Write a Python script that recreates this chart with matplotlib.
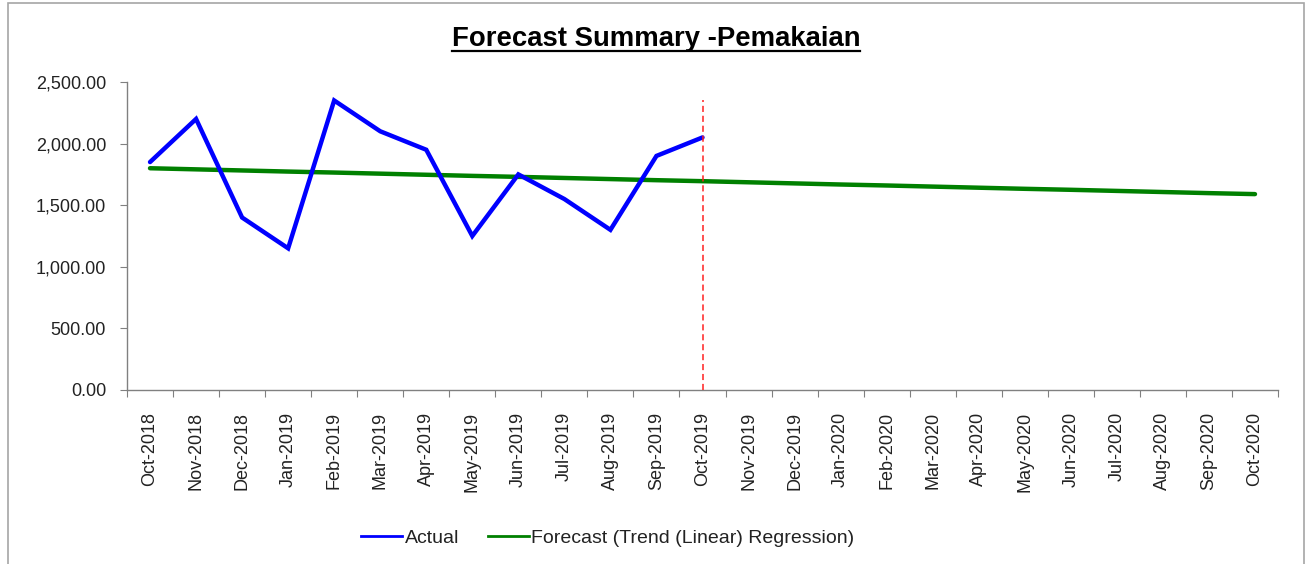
"""
Forecast summary chart: actual usage vs linear trend forecast.
"""

import matplotlib
matplotlib.use("Agg")
import matplotlib.pyplot as plt
from matplotlib.lines import Line2D
from matplotlib.patches import Rectangle
from matplotlib.ticker import FuncFormatter, FixedLocator

plt.rcParams["font.family"] = ["Liberation Sans", "DejaVu Sans"]

MONTHS = [
    "Oct-2018", "Nov-2018", "Dec-2018", "Jan-2019", "Feb-2019", "Mar-2019",
    "Apr-2019", "May-2019", "Jun-2019", "Jul-2019", "Aug-2019", "Sep-2019",
    "Oct-2019", "Nov-2019", "Dec-2019", "Jan-2020", "Feb-2020", "Mar-2020",
    "Apr-2020", "May-2020", "Jun-2020", "Jul-2020", "Aug-2020", "Sep-2020",
    "Oct-2020",
]

ACTUAL = [1850, 2200, 1400, 1150, 2350, 2100, 1950, 1250, 1750, 1550, 1300, 1900, 2050]

FORECAST = [1800, 1791, 1782, 1773, 1765, 1756, 1747, 1738, 1730, 1721, 1712, 1703,
            1695, 1686, 1677, 1668, 1660, 1651, 1642, 1633, 1625, 1616, 1607, 1598, 1590]

CUTOFF_MONTH = "Oct-2019"
CUTOFF_TOP = 2350

W, H = 1311, 564
fig = plt.figure(figsize=(W / 100, H / 100), dpi=100)
fig.patch.set_facecolor("white")

# outer chart frame
fig.add_artist(Rectangle((8 / W, -0.02), (1304 - 8) / W, (H - 3) / H + 0.02,
                         transform=fig.transFigure, fill=False,
                         edgecolor="#A6A6A6", linewidth=1.2))

ax = fig.add_axes([127 / W, (H - 390) / H, (1278 - 127) / W, (390 - 82) / H])

x_all = list(range(len(MONTHS)))
x_act = x_all[:len(ACTUAL)]

ax.plot(x_all, FORECAST, color="#008000", linewidth=3.2, solid_capstyle="round",
        label="Forecast (Trend (Linear) Regression)", zorder=2)
ax.plot(x_act, ACTUAL, color="#0000FF", linewidth=3.2, solid_capstyle="round",
        solid_joinstyle="miter", label="Actual", zorder=3)

xc = MONTHS.index(CUTOFF_MONTH)
ax.plot([xc, xc], [0, CUTOFF_TOP], color="#FF2020", linewidth=1.1,
        linestyle=(0, (4, 2.5)), zorder=4)

ax.set_xlim(-0.5, len(MONTHS) - 0.5)
ax.set_ylim(0, 2500)
ax.set_yticks([0, 500, 1000, 1500, 2000, 2500])
ax.yaxis.set_major_formatter(FuncFormatter(lambda v, p: f"{v:,.2f}"))

# ticks between categories, labels at category centres
ax.xaxis.set_major_locator(FixedLocator([i - 0.5 for i in range(len(MONTHS) + 1)]))
ax.xaxis.set_minor_locator(FixedLocator(x_all))
ax.set_xticklabels([], minor=False)
ax.set_xticklabels(MONTHS, minor=True, rotation=90, va="top", ha="center")
ax.tick_params(axis="x", which="major", length=5, color="#808080", direction="out")
ax.tick_params(axis="x", which="minor", length=0, pad=16, labelsize=13, labelcolor="#222222")
ax.tick_params(axis="y", length=5, color="#808080", direction="out", pad=10,
               labelsize=13, labelcolor="#222222")

for side in ("top", "right"):
    ax.spines[side].set_visible(False)
for side in ("left", "bottom"):
    ax.spines[side].set_color("#808080")
    ax.spines[side].set_linewidth(1.0)

# title with underline
title = fig.text(656 / W, (H - 39) / H, "Forecast Summary -Pemakaian",
                 ha="center", va="center", fontsize=19.8, fontweight="bold")
fig.canvas.draw()
bb = title.get_window_extent().transformed(fig.transFigure.inverted())
fig.add_artist(Line2D([bb.x0, bb.x1], [(H - 50.5) / H, (H - 50.5) / H],
                      transform=fig.transFigure, color="black", linewidth=1.6))

handles = [Line2D([], [], color="#0000FF", linewidth=2),
           Line2D([], [], color="#008000", linewidth=2)]
fig.legend(handles, ["Actual", "Forecast (Trend (Linear) Regression)"],
           loc="center", bbox_to_anchor=(608 / W, (H - 538) / H), ncol=2,
           frameon=False, fontsize=14, handlelength=2.1, handletextpad=0.15,
           columnspacing=1.45, labelcolor="#222222")

fig.savefig("out.png", dpi=100)
